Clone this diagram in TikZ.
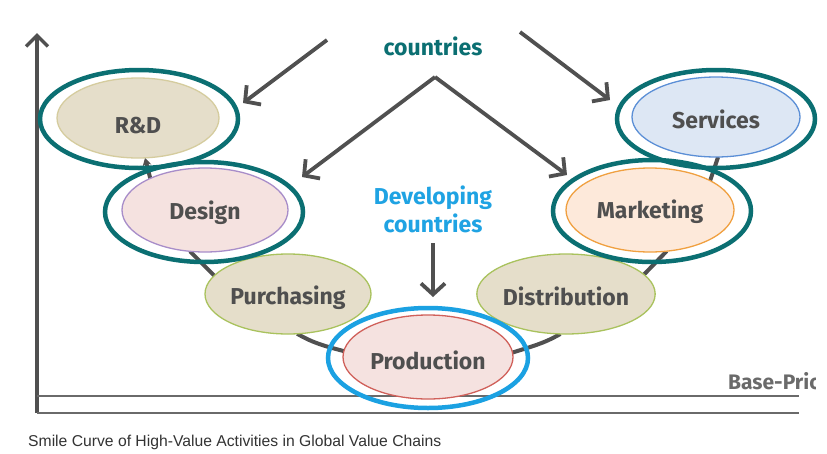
\documentclass[tikz,border=0pt]{standalone}
\usepackage{fontspec}
\setsansfont{Fira Sans}
\setmainfont{Liberation Sans}
\usetikzlibrary{shapes.geometric,arrows.meta}
\definecolor{teal1}{HTML}{0B6F72}
\definecolor{ringblue}{HTML}{1BA1E2}
\definecolor{txtgray}{HTML}{4F4F4F}
\definecolor{arrgray}{HTML}{505050}
\definecolor{beige}{HTML}{E5DECA}
\definecolor{beigeline}{HTML}{D5CC9E}
\definecolor{greenline}{HTML}{A9C25D}
\definecolor{pinkfill}{HTML}{F5E2E0}
\definecolor{purpline}{HTML}{A88DC9}
\definecolor{redline}{HTML}{D0605A}
\definecolor{orangefill}{HTML}{FDE9DA}
\definecolor{orangeline}{HTML}{F0A040}
\definecolor{bluefill}{HTML}{DDE7F4}
\definecolor{blueline}{HTML}{5B8FD6}
\definecolor{devblue}{HTML}{1FA3E3}
\definecolor{capgray}{HTML}{333333}
\definecolor{linegray}{HTML}{6A6A6A}
\newcommand\lowtxt[2]{\raisebox{-#1}[0pt][0pt]{#2}}
\pgfdeclarelayer{bg}
\pgfsetlayers{bg,main}
\tikzset{
  act/.style={ellipse, inner sep=0pt, outer sep=0pt, line width=1.3pt, text=txtgray,
    font=\sffamily\bfseries\fontsize{23}{26}\selectfont},
  ring/.style={ellipse, inner sep=0pt, outer sep=0pt, line width=4.5pt, draw=teal1},
  bigarrow/.style={draw=arrgray, line width=3.8pt, -{Straight Barb[length=11pt,width=24pt,line width=3.8pt]}},
  smile/.style={draw=arrgray, line width=4pt},
  heading/.style={font=\sffamily\bfseries\fontsize{23}{28}\selectfont, align=center},
}
\begin{document}
\begin{tikzpicture}[x=1pt,y=-1pt]
\useasboundingbox (0,0) rectangle (827,453);
\begin{pgfonlayer}{bg}
\fill[white] (0,0) rectangle (827,453);
\end{pgfonlayer}

% axes
\draw[draw=arrgray, line width=3.5pt, line join=miter, -{Straight Barb[length=11pt,width=22pt,line width=3.5pt]}] (37,413) -- (37,33);
\coordinate (axO) at (37,413);
\coordinate (axE) at (799,413);
\coordinate (bpO) at (37,396);
\coordinate (bpE) at (799,396);
\draw[draw=linegray, line width=2pt] (axO) -- (axE);
\draw[draw=linegray, line width=2pt] (bpO) -- (bpE);
\begin{scope}
\clip (700,360) rectangle (815,400);
\node[anchor=base west, text=linegray, font=\sffamily\bfseries\fontsize{21}{24}\selectfont, inner sep=0pt] (bp) at (728,389) {Base-Price};
\end{scope}

% activities
\node[act, fill=beige, draw=beigeline, minimum width=162pt, minimum height=80pt] (rd) at (138,118) {\lowtxt{15pt}{R\&D}};
\node[act, fill=pinkfill, draw=purpline, minimum width=166pt, minimum height=84pt] (design) at (205,210) {\lowtxt{9pt}{Design}};
\node[act, fill=beige, draw=greenline, minimum width=166pt, minimum height=80pt] (purch) at (288,294) {\lowtxt{10pt}{Purchasing}};
\node[act, fill=pinkfill, draw=redline, minimum width=170pt, minimum height=84pt] (prod) at (428,357) {\lowtxt{12pt}{Production}};
\node[act, fill=beige, draw=greenline, minimum width=166pt, minimum height=80pt] (dist) at (566,294) {\lowtxt{11pt}{Distribution}};
\node[act, fill=orangefill, draw=orangeline, minimum width=168pt, minimum height=84pt] (mkt) at (650,210) {\lowtxt{8pt}{Marketing}};
\node[act, fill=bluefill, draw=blueline, minimum width=168pt, minimum height=80pt] (srv) at (716,117) {\lowtxt{11pt}{Services}};

% rings
\node[ring, minimum width=198pt, minimum height=98pt] (rdring) at (139,119) {};
\node[ring, minimum width=198pt, minimum height=100pt] (designring) at (204,212) {};
\node[ring, minimum width=198pt, minimum height=102pt] (mktring) at (652,211) {};
\node[ring, minimum width=198pt, minimum height=98pt] (srvring) at (716,119) {};
\node[ring, draw=ringblue, minimum width=200pt, minimum height=100pt] (prodring) at (428,358) {};

% smile curve
\begin{pgfonlayer}{bg}
\draw[smile, -{Stealth[length=8pt,width=9pt]}] (design.150) -- (rd.280);
\draw[smile] (design.250) -- (purch.166);
\draw[smile] (purch.283) to[out=-30,in=165] (prod.176);
\draw[smile] (prod.3) to[out=18,in=-150] (dist.262);
\draw[smile] (dist.14) -- (mkt.292);
\draw[smile] (mkt.26) -- (srv.273);
\end{pgfonlayer}

% headings
\node[heading, text=teal1] (dev) at (433,46) {countries};
\node[heading, text=devblue] (dvg) at (433,209) {Developing\\countries};

% arrows
\coordinate (a1s) at (327,40);
\coordinate (a1e) at (243,103);
\coordinate (a2s) at (520,32);
\coordinate (a2e) at (610,100);
\coordinate (apex) at (435,77);
\coordinate (a3e) at (302,177);
\coordinate (a4e) at (567,175);
\coordinate (a5s) at (433,243);
\coordinate (a5e) at (433,297);
\draw[bigarrow] (a1s) -- (a1e);
\draw[bigarrow] (a2s) -- (a2e);
\draw[bigarrow] (apex) -- (a3e);
\draw[bigarrow] (apex) -- (a4e);
\draw[bigarrow] (a5s) -- (a5e);

% caption
\node[anchor=base west, inner sep=0pt, text=capgray, font=\rmfamily\fontsize{15.7}{18}\selectfont] (cap) at (28,446) {Smile Curve of High-Value Activities in Global Value Chains};
\end{tikzpicture}
\end{document}
